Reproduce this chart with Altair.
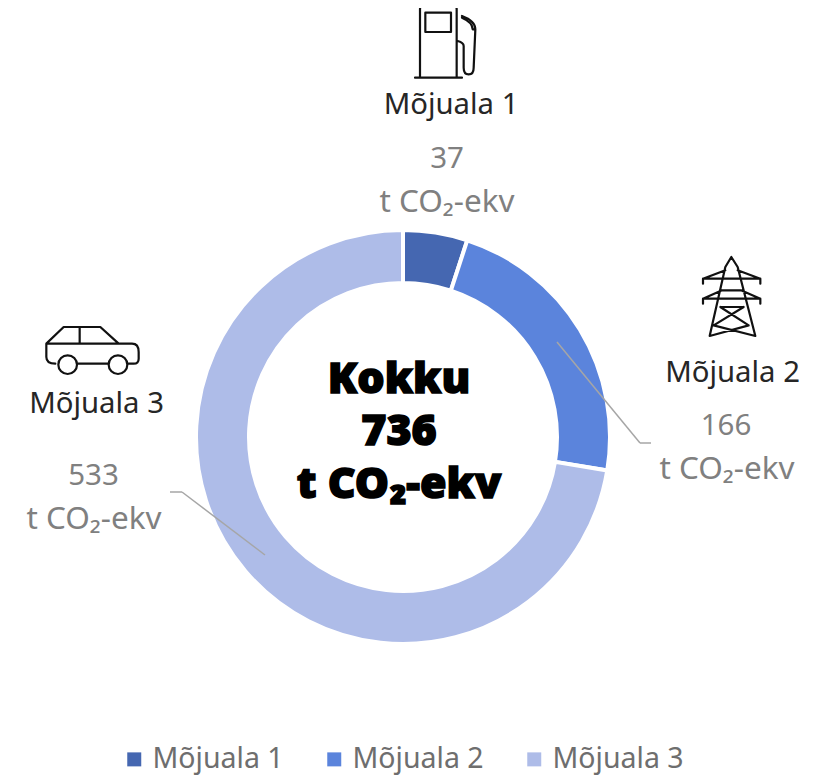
import altair as alt
import pandas as pd

scopes = ["Mõjuala 1", "Mõjuala 2", "Mõjuala 3"]
emissions = [37, 166, 533]
unit = "t CO₂-ekv"
total_word = "Kokku"
colours = ["#4567B1", "#5B84DC", "#AEBCE8"]

FONT = "Noto Sans"
W, H = 804, 768
CX, CY = 395, 429

df = pd.DataFrame({"scope": scopes, "value": emissions, "idx": [0, 1, 2]})
dummy = alt.Data(values=[{"a": 0}])

donut = alt.Chart(df).mark_arc(radius=207, radius2=154, stroke="white", strokeWidth=4).encode(
    theta=alt.Theta("value:Q", stack=True, scale=alt.Scale(domain=[0, sum(emissions)], range=[0, 6.28319])),
    order=alt.Order("idx:Q"),
    color=alt.Color(
        "scope:N",
        scale=alt.Scale(domain=scopes, range=colours),
        legend=alt.Legend(
            title=None, orient="none", legendX=112, legendY=737, direction="horizontal",
            symbolType="square", symbolSize=196, symbolStrokeWidth=0, symbolOpacity=1,
            labelFont=FONT, labelFontSize=28.5, labelColor="#6E6E6E", labelOffset=4,
            columnPadding=36, labelLimit=300,
        ),
    ),
    x=alt.value(CX),
    y=alt.value(CY),
)


def txt(s, x, y, size, colour, weight=400, font=FONT, **kw):
    return alt.Chart(dummy).mark_text(
        text=s, fontSize=size, color=colour, font=font, fontWeight=weight,
        align="center", baseline="alphabetic", **kw
    ).encode(x=alt.value(x), y=alt.value(y))


def rule(x1, y1, x2, y2):
    return alt.Chart(dummy).mark_rule(color="#A6A6A6", strokeWidth=1.5).encode(
        x=alt.value(x1), y=alt.value(y1), x2=alt.value(x2), y2=alt.value(y2)
    )


def icon(path, x, y):
    return alt.Chart(dummy).mark_point(
        shape=path, size=4 / 9, filled=False, stroke="#111111", strokeWidth=2.2,
        opacity=1, strokeJoin="round", strokeCap="round",
    ).encode(x=alt.value(x), y=alt.value(y))


pump = (
    "M-78 110V-95Q-78 -110 -63 -110H17Q32 -110 32 -95V110M-93 110H48"
    "M-62 -85H15V-27H-62Z"
    "M48 -75Q88 -60 88 -35L83 80Q83 100 68 100Q53 100 53 80V15Q53 5 35 0"
    "M48 -70Q80 -56 80 -35H88"
)
pylon = (
    "M-20 -90L-2 -120L17 -90M-20 -90L-67 117M17 -90L70 117"
    "M-87 -40V-55L-20 -80M85 -40V-55L17 -80M-87 -55H85"
    "M-87 20V5L-30 -20M85 20V5L27 -20M-87 5H85M-30 -20H27"
    "M-35 30H35M-35 30L50 85M35 30L-55 85M-55 85L70 117M50 85L-67 117"
)
car = (
    "M-137 -10L-85 -60H25L80 -10M-137 -10H120Q140 -10 140 15V35Q140 50 125 50H107"
    "M-43 50H47M-110 50Q-137 50 -137 30V-10M-37 -60V-10"
    "M-101 53A28 28 0 1 0 -45 53A28 28 0 1 0 -101 53"
    "M50 53A28 28 0 1 0 106 53A28 28 0 1 0 50 53"
)

DARK = "#262626"
GREY = "#808080"
SMALL, VAL, UNIT = 29.3, 29.5, 31.5
BIG = 43
layers = [
    donut,
    rule(549, 334, 632, 435), rule(632, 435, 643, 435),
    rule(257, 547, 174, 484), rule(174, 484, 162, 484),
    icon(pump, 438, 33), icon(pylon, 724, 289), icon(car, 84, 339),
    txt(scopes[0], 443, 106, SMALL, DARK),
    txt(str(emissions[0]), 439, 160, VAL, GREY),
    txt(unit, 439, 204, UNIT, GREY),
    txt(scopes[1], 724.5, 374, SMALL, DARK),
    txt(str(emissions[1]), 718, 427, VAL, GREY),
    txt(unit, 719, 471, UNIT, GREY),
    txt(scopes[2], 88.5, 405, SMALL, DARK),
    txt(str(emissions[2]), 85.5, 477, VAL, GREY),
    txt(unit, 86, 521, UNIT, GREY),
    txt(total_word, 391, 385, BIG, "#000000", 900, stroke="#000000", strokeWidth=1.5),
    txt(str(sum(emissions)), 391, 437, BIG, "#000000", 900, stroke="#000000", strokeWidth=1.5),
    txt(unit, 391, 490, BIG, "#000000", 900, stroke="#000000", strokeWidth=1.5),
]

chart = alt.layer(*layers).properties(
    width=W, height=H, padding=0, autosize=alt.AutoSizeParams(type="none")
).configure_view(stroke=None)

chart.save("out.html", embed_options={"renderer": "svg", "actions": False})
